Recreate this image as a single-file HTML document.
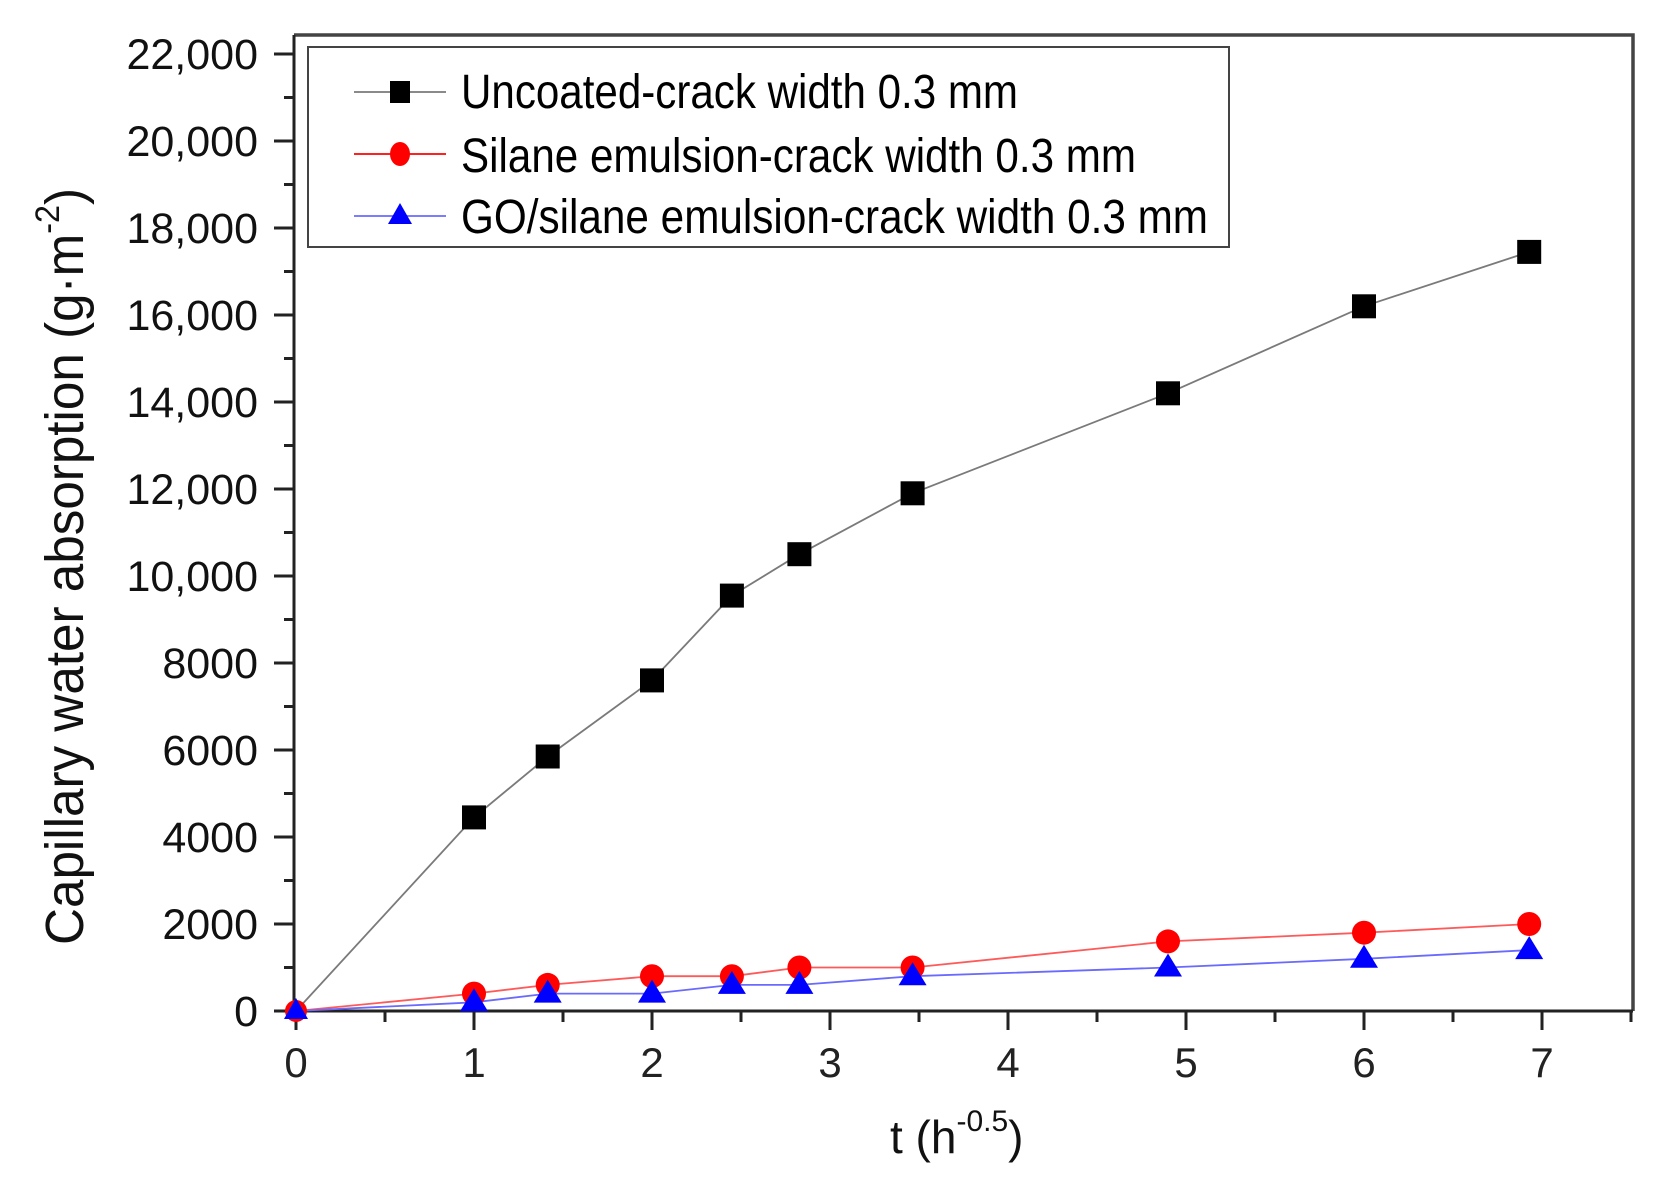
<!DOCTYPE html>
<html><head><meta charset="utf-8"><style>html,body{margin:0;padding:0;background:#fff}svg{display:block}</style></head>
<body>
<svg width="1663" height="1197" viewBox="0 0 1663 1197" xmlns="http://www.w3.org/2000/svg" font-family="Liberation Sans, Arial, sans-serif">
<rect width="1663" height="1197" fill="#fff"/>
<path d="M294 35 H1633 V1011" fill="none" stroke="#444" stroke-width="3.5"/>
<path d="M294 35 V1011 H1633" fill="none" stroke="#222" stroke-width="3"/>
<g stroke="#222" stroke-width="3">
<path d="M274 1011H294M274 924H294M274 837H294M274 750H294M274 663H294M274 576H294M274 489H294M274 402H294M274 315H294M274 228H294M274 141H294M274 54H294"/>
<path d="M284 967.5H294M284 880.5H294M284 793.5H294M284 706.5H294M284 619.5H294M284 532.5H294M284 445.5H294M284 358.5H294M284 271.5H294M284 184.5H294M284 97.5H294"/>
<path d="M296 1011V1030M474 1011V1030M652 1011V1030M830 1011V1030M1008 1011V1030M1186 1011V1030M1364 1011V1030M1542 1011V1030"/>
<path d="M385 1011V1022M563 1011V1022M741 1011V1022M919 1011V1022M1097 1011V1022M1275 1011V1022M1453 1011V1022M1631 1011V1022"/>
</g>
<g font-size="43" fill="#111" text-anchor="end">
<text x="258" y="1026">0</text>
<text x="258" y="939">2000</text>
<text x="258" y="852">4000</text>
<text x="258" y="765">6000</text>
<text x="258" y="678">8000</text>
<text x="258" y="591">10,000</text>
<text x="258" y="504">12,000</text>
<text x="258" y="417">14,000</text>
<text x="258" y="330">16,000</text>
<text x="258" y="243">18,000</text>
<text x="258" y="156">20,000</text>
<text x="258" y="69">22,000</text>
</g>
<g font-size="42" fill="#222" text-anchor="middle">
<text x="296" y="1077">0</text><text x="474" y="1077">1</text><text x="652" y="1077">2</text><text x="830" y="1077">3</text><text x="1008" y="1077">4</text><text x="1186" y="1077">5</text><text x="1364" y="1077">6</text><text x="1542" y="1077">7</text>
</g>
<text x="890" y="1153" font-size="46" fill="#111">t (h<tspan font-size="30" dy="-22">-0.5</tspan><tspan dy="22">)</tspan></text>
<text transform="translate(83,945) rotate(-90)" font-size="54" fill="#111" textLength="757" lengthAdjust="spacingAndGlyphs">Capillary water absorption (g·m<tspan font-size="34" dy="-24">-2</tspan><tspan dy="24">)</tspan></text>
<polyline fill="none" stroke="#7a7a7a" stroke-width="1.8" points="296,1011 474,817.4 547.7,756.5 652,680.4 731.9,595.6 799.4,554.2 912.6,493.3 1168,393.3 1364,306.3 1529.2,251.9"/>
<polyline fill="none" stroke="#ff5a5a" stroke-width="1.8" points="296,1011 474,993.6 547.7,984.9 652,976.2 731.9,976.2 799.4,967.5 912.6,967.5 1168,941.4 1364,932.7 1529.2,924"/>
<polyline fill="none" stroke="#6a6aff" stroke-width="1.8" points="296,1011 474,1002.3 547.7,993.6 652,993.6 731.9,984.9 799.4,984.9 912.6,976.2 1168,967.5 1364,958.8 1529.2,950.1"/>
<g fill="#000">
<rect x="462" y="805.4" width="24" height="24"/><rect x="535.7" y="744.5" width="24" height="24"/><rect x="640" y="668.4" width="24" height="24"/><rect x="719.9" y="583.6" width="24" height="24"/><rect x="787.4" y="542.2" width="24" height="24"/><rect x="900.6" y="481.3" width="24" height="24"/><rect x="1156" y="381.3" width="24" height="24"/><rect x="1352" y="294.3" width="24" height="24"/><rect x="1517.2" y="239.9" width="24" height="24"/>
</g>
<g fill="#f00">
<circle cx="296" cy="1011" r="11"/><circle cx="474" cy="993.6" r="12"/><circle cx="547.7" cy="984.9" r="12"/><circle cx="652" cy="976.2" r="12"/><circle cx="731.9" cy="976.2" r="12"/><circle cx="799.4" cy="967.5" r="12"/><circle cx="912.6" cy="967.5" r="12"/><circle cx="1168" cy="941.4" r="12"/><circle cx="1364" cy="932.7" r="12"/><circle cx="1529.2" cy="924" r="12"/>
</g>
<g fill="#00f">
<path d="M296 998l-12 21h24z"/>
<path d="M474 988.3l-14 23h28z"/><path d="M547.7 979.6l-14 23h28z"/><path d="M652 979.6l-14 23h28z"/><path d="M731.9 970.9l-14 23h28z"/><path d="M799.4 970.9l-14 23h28z"/><path d="M912.6 962.2l-14 23h28z"/><path d="M1168 953.5l-14 23h28z"/><path d="M1364 944.8l-14 23h28z"/><path d="M1529.2 936.1l-14 23h28z"/>
</g>
<rect x="308" y="47" width="921" height="200" fill="#fff" stroke="#444" stroke-width="2"/>
<line x1="354" y1="92" x2="446" y2="92" stroke="#7a7a7a" stroke-width="1.8"/>
<rect x="390" y="81" width="20" height="22" fill="#000"/>
<line x1="354" y1="154" x2="446" y2="154" stroke="#f00" stroke-width="1.8"/>
<ellipse cx="400" cy="154" rx="10" ry="12" fill="#f00"/>
<line x1="354" y1="216" x2="446" y2="216" stroke="#6a6aff" stroke-width="1.8"/>
<path d="M400 203l-12 21h24z" fill="#00f"/>
<g font-size="48" fill="#000">
<text x="461" y="108" textLength="557" lengthAdjust="spacingAndGlyphs">Uncoated-crack width 0.3 mm</text>
<text x="461" y="172" textLength="675" lengthAdjust="spacingAndGlyphs">Silane emulsion-crack width 0.3 mm</text>
<text x="461" y="233" textLength="747" lengthAdjust="spacingAndGlyphs">GO/silane emulsion-crack width 0.3 mm</text>
</g>
</svg>
</body></html>
